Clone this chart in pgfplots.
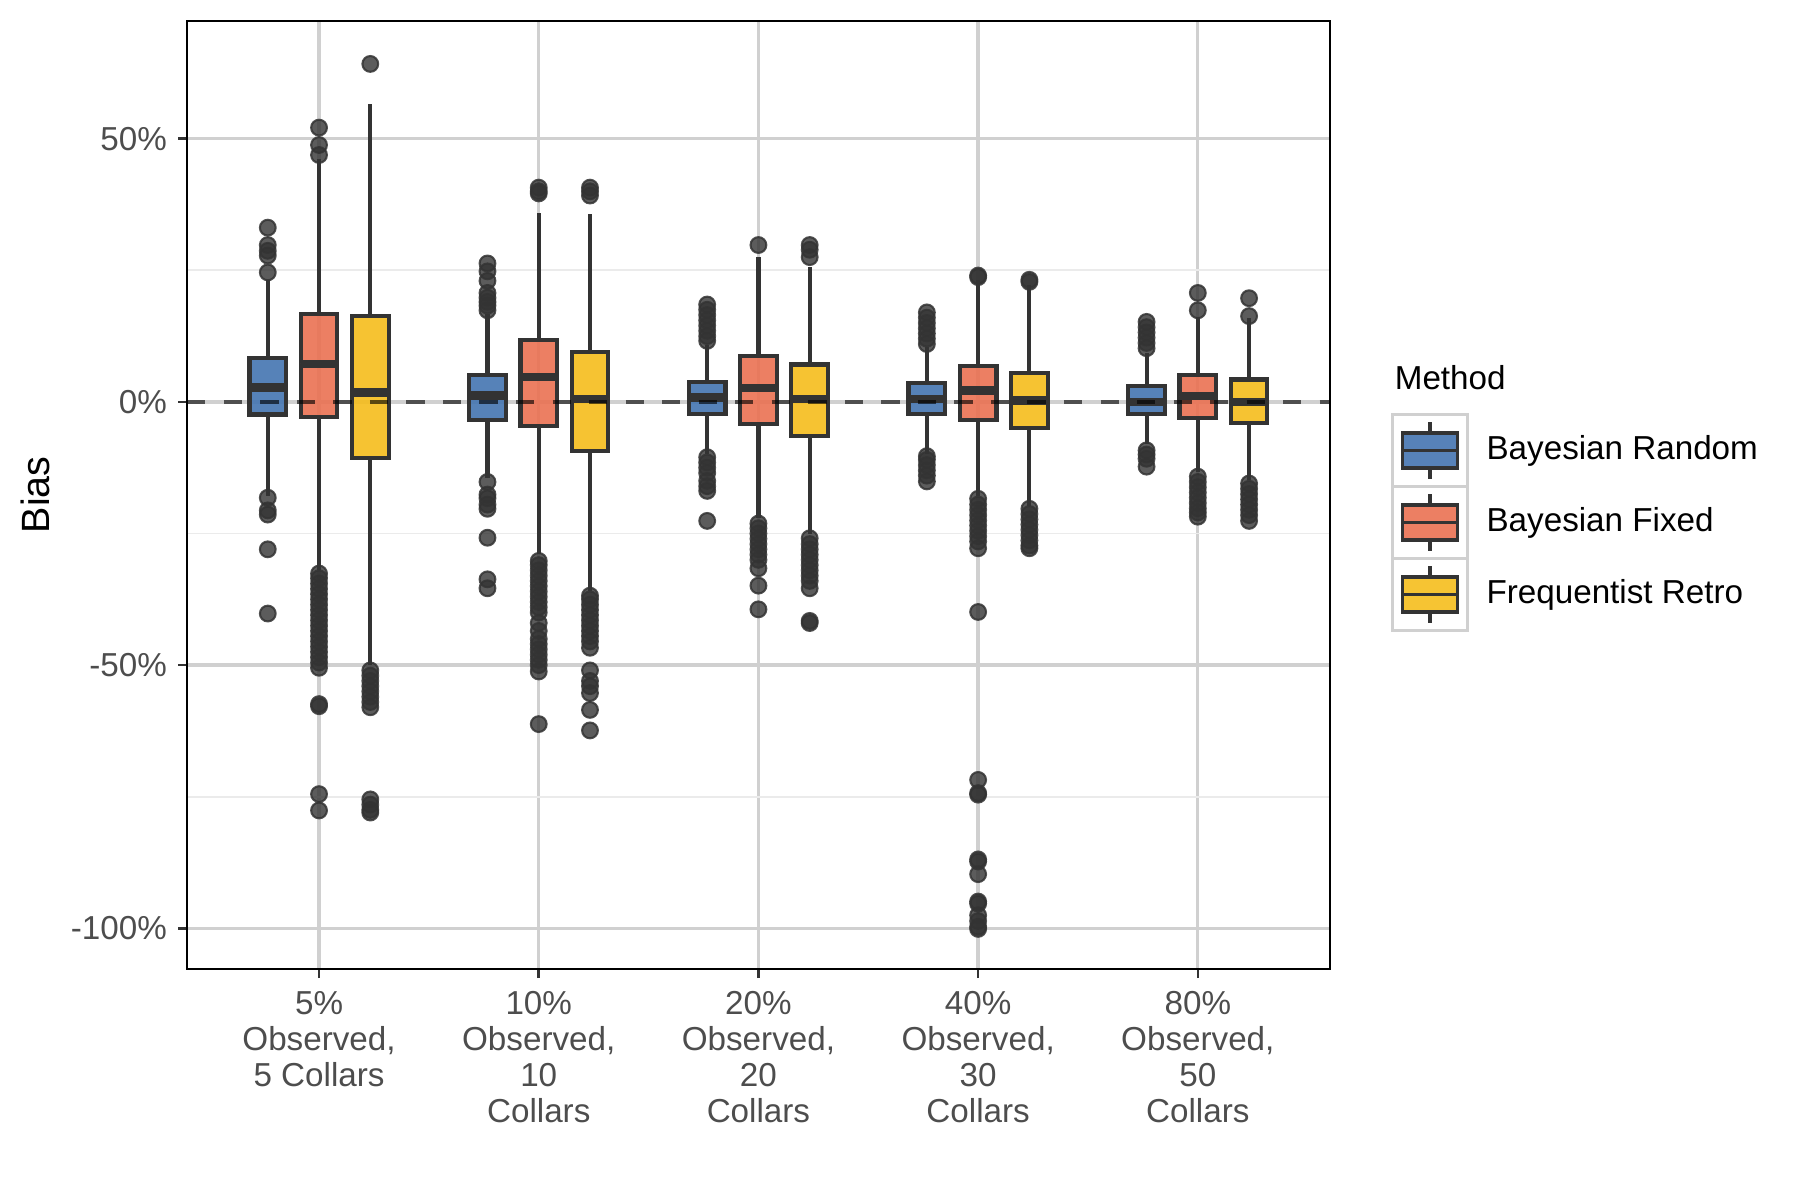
\documentclass[border=0pt]{standalone}
\usepackage{fontspec}
\setmainfont{Liberation Sans}
\usepackage{pgfplots}
\pgfplotsset{compat=1.18}
\usepgfplotslibrary{statistics}
\definecolor{bblue}{HTML}{4474B0}
\definecolor{bred}{HTML}{EA7152}
\definecolor{byel}{HTML}{F5BD1C}
\definecolor{lblue}{HTML}{5782B8}
\definecolor{lred}{HTML}{EC7F63}
\definecolor{lyel}{HTML}{F6C433}
\definecolor{g20}{HTML}{333333}
\definecolor{g30}{HTML}{4D4D4D}
\definecolor{gmaj}{HTML}{D0D0D0}
\definecolor{gmin}{HTML}{EBEBEB}
\newcommand{\legkey}[1]{%
  \path[fill=white] (0pt,-8.7pt) rectangle (18pt,8.7pt);
  \draw[overlay, draw=gmaj, line width=0.65pt] (0pt,-8.7pt) rectangle (18pt,8.7pt);
  \draw[g20, line width=0.8pt] (9pt,4.2pt) -- (9pt,6.9pt) (9pt,-4.2pt) -- (9pt,-6.9pt);
  \draw[draw=g20, fill=#1, line width=0.8pt] (2.4pt,-4.2pt) rectangle (15.6pt,4.2pt);
  \draw[g20, line width=0.8pt] (2.4pt,0pt) -- (15.6pt,0pt);
}
\pgfplotsset{
  bx/.style={boxplot prepared={box extend=0.1667, whisker extend=0, #1},
    boxplot/draw direction=y,
    draw=g20, line width=1.0pt, fill opacity=0.9,
    boxplot/every median/.style={line width=2.0pt},
    boxplot/every whisker/.style={line width=1.0pt}},
  outl/.style={only marks, mark=*, mark size=1.9pt,
    mark options={fill=g20, draw=g20, fill opacity=0.8, draw opacity=0.85, line width=0.5pt}},
}
\begin{document}
\begin{tikzpicture}
\useasboundingbox (0,0) rectangle (433.6pt,289.1pt);
\begin{axis}[
 at={(45.1pt,55.7pt)}, anchor=south west,
 scale only axis, width=275.2pt, height=228.4pt,
 xmin=0.4, xmax=5.6, ymin=-107.7, ymax=72.4,
 xtick={1,2,3,4,5},
 xticklabels={{5\%\\Observed,\\5 Collars},{10\%\\Observed,\\10\\Collars},{20\%\\Observed,\\20\\Collars},{40\%\\Observed,\\30\\Collars},{80\%\\Observed,\\50\\Collars}},
 ytick={-100,-50,0,50}, yticklabels={-100\%,-50\%,0\%,50\%},
 minor ytick={-75,-25,25},
 xmajorgrids, ymajorgrids, yminorgrids,
 major grid style={gmaj, line width=0.8pt},
 minor grid style={gmin, line width=0.45pt},
 tick pos=left, tick align=outside, major tick length=2.2pt, minor tick length=0pt,
 tick style={g20, line width=0.6pt},
 axis line style={black, line width=0.45pt},
 tick label style={font=\fontsize{8}{8.6}\selectfont, text=g30},
 xticklabel style={align=center, anchor=north, inner sep=0pt, yshift=-3.1pt},
 yticklabel style={anchor=east, inner sep=0pt, xshift=-2.5pt},
 ylabel={Bias},
 ylabel style={at={(axis description cs:-0.1325,0.5)}, anchor=center, font=\fontsize{9.5}{11}\selectfont},
 legend style={at={(axis description cs:1.0545,0.5858)}, anchor=north west, draw=none, fill=none,
   inner sep=0pt, outer sep=0pt, row sep=-0.45pt, column sep=4.4pt,
   font=\fontsize{8}{9.6}\selectfont, nodes={inner sep=0pt, text=black}},
 legend cell align=left,
]
\addlegendimage{legend image code/.code={\legkey{lblue}}}
\addlegendentry{Bayesian Random}
\addlegendimage{legend image code/.code={\legkey{lred}}}
\addlegendentry{Bayesian Fixed}
\addlegendimage{legend image code/.code={\legkey{lyel}}}
\addlegendentry{Frequentist Retro}

% ---- 5% ----
\addplot[bx={draw position=0.7667, lower whisker=-17.8, lower quartile=-2.4, median=2.75, upper quartile=8.36, upper whisker=23.2}, fill=bblue] coordinates {};
\addplot[bx={draw position=1, lower whisker=-32.0, lower quartile=-2.9, median=7.26, upper quartile=16.7, upper whisker=46.2}, fill=bred] coordinates {};
\addplot[bx={draw position=1.2333, lower whisker=-50.0, lower quartile=-10.7, median=1.8, upper quartile=16.3, upper whisker=56.5}, fill=byel] coordinates {};
% ---- 10% ----
\addplot[bx={draw position=1.7667, lower whisker=-14.4, lower quartile=-3.4, median=1.2, upper quartile=5.07, upper whisker=16.7}, fill=bblue] coordinates {};
\addplot[bx={draw position=2, lower whisker=-28.9, lower quartile=-4.5, median=4.7, upper quartile=11.8, upper whisker=35.9}, fill=bred] coordinates {};
\addplot[bx={draw position=2.2333, lower whisker=-36.0, lower quartile=-9.4, median=0.6, upper quartile=9.4, upper whisker=35.6}, fill=byel] coordinates {};
% ---- 20% ----
\addplot[bx={draw position=2.7667, lower whisker=-9.9, lower quartile=-2.3, median=0.82, upper quartile=3.84, upper whisker=10.9}, fill=bblue] coordinates {};
\addplot[bx={draw position=3, lower whisker=-22.1, lower quartile=-4.2, median=2.6, upper quartile=8.76, upper whisker=27.5}, fill=bred] coordinates {};
\addplot[bx={draw position=3.2333, lower whisker=-25.0, lower quartile=-6.4, median=0.53, upper quartile=7.1, upper whisker=25.6}, fill=byel] coordinates {};
% ---- 40% ----
\addplot[bx={draw position=3.7667, lower whisker=-9.9, lower quartile=-2.3, median=0.53, upper quartile=3.55, upper whisker=10.4}, fill=bblue] coordinates {};
\addplot[bx={draw position=4, lower whisker=-17.9, lower quartile=-3.4, median=2.15, upper quartile=6.86, upper whisker=23.2}, fill=bred] coordinates {};
\addplot[bx={draw position=4.2333, lower whisker=-19.8, lower quartile=-5.0, median=0.25, upper quartile=5.45, upper whisker=22.3}, fill=byel] coordinates {};
% ---- 80% ----
\addplot[bx={draw position=4.7667, lower whisker=-7.9, lower quartile=-2.3, median=0.02, upper quartile=3.0, upper whisker=9.2}, fill=bblue] coordinates {};
\addplot[bx={draw position=5, lower whisker=-13.3, lower quartile=-3.1, median=1.1, upper quartile=5.1, upper whisker=16.2}, fill=bred] coordinates {};
\addplot[bx={draw position=5.2333, lower whisker=-14.9, lower quartile=-4.0, median=0.02, upper quartile=4.27, upper whisker=15.9}, fill=byel] coordinates {};

% ---- outliers ----
\addplot[outl] coordinates {(0.7667,33.1) (0.7667,29.8) (0.7667,28.7) (0.7667,27.8) (0.7667,24.6) (0.7667,-18.2) (0.7667,-20.6) (0.7667,-21.4) (0.7667,-28.0) (0.7667,-40.2)};
\addplot[outl] coordinates {(1,52.1) (1,48.8) (1,46.9) (1,-32.6) (1,-33.5) (1,-34.5) (1,-35.5) (1,-36.5) (1,-37.5) (1,-38.5) (1,-39.5) (1,-40.5) (1,-41.5) (1,-42.5) (1,-43.5) (1,-44.5) (1,-45.5) (1,-46.5) (1,-47.5) (1,-48.5) (1,-49.5) (1,-50.5) (1,-57.4) (1,-57.8) (1,-74.5) (1,-77.6)};
\addplot[outl] coordinates {(1.2333,64.2) (1.2333,-51.0) (1.2333,-52.0) (1.2333,-53.0) (1.2333,-54.0) (1.2333,-55.0) (1.2333,-56.0) (1.2333,-57.0) (1.2333,-58.0) (1.2333,-75.5) (1.2333,-76.5) (1.2333,-77.5) (1.2333,-78.0)};
\addplot[outl] coordinates {(1.7667,26.3) (1.7667,24.8) (1.7667,23.0) (1.7667,20.7) (1.7667,19.8) (1.7667,19.0) (1.7667,18.3) (1.7667,17.4) (1.7667,-15.2) (1.7667,-17.6) (1.7667,-18.3) (1.7667,-19.5) (1.7667,-20.3) (1.7667,-25.8) (1.7667,-33.7) (1.7667,-35.4)};
\addplot[outl] coordinates {(2,40.7) (2,40.0) (2,39.6) (2,-30.2) (2,-31.0) (2,-32.0) (2,-33.0) (2,-34.0) (2,-35.0) (2,-36.0) (2,-37.0) (2,-38.0) (2,-39.0) (2,-40.0) (2,-42.0) (2,-43.5) (2,-45.0) (2,-46.0) (2,-47.0) (2,-48.0) (2,-49.0) (2,-50.0) (2,-51.2) (2,-61.2)};
\addplot[outl] coordinates {(2.2333,40.7) (2.2333,40.0) (2.2333,39.2) (2.2333,-36.8) (2.2333,-37.5) (2.2333,-38.5) (2.2333,-39.5) (2.2333,-40.5) (2.2333,-41.5) (2.2333,-42.5) (2.2333,-43.5) (2.2333,-44.5) (2.2333,-45.5) (2.2333,-46.7) (2.2333,-51.0) (2.2333,-53.0) (2.2333,-54.0) (2.2333,-55.3) (2.2333,-58.5) (2.2333,-62.4)};
\addplot[outl] coordinates {(2.7667,18.5) (2.7667,17.5) (2.7667,16.5) (2.7667,15.5) (2.7667,14.5) (2.7667,13.5) (2.7667,12.5) (2.7667,11.6) (2.7667,-10.5) (2.7667,-11.5) (2.7667,-12.5) (2.7667,-13.5) (2.7667,-15.0) (2.7667,-16.0) (2.7667,-16.9) (2.7667,-22.6)};
\addplot[outl] coordinates {(3,29.8) (3,-23.1) (3,-24.0) (3,-25.0) (3,-26.0) (3,-27.0) (3,-28.0) (3,-29.0) (3,-30.0) (3,-31.6) (3,-34.9) (3,-39.4)};
\addplot[outl] coordinates {(3.2333,29.8) (3.2333,28.9) (3.2333,27.5) (3.2333,-25.9) (3.2333,-27.0) (3.2333,-28.0) (3.2333,-29.0) (3.2333,-30.0) (3.2333,-31.0) (3.2333,-32.0) (3.2333,-33.0) (3.2333,-34.0) (3.2333,-35.4) (3.2333,-41.6) (3.2333,-42.0)};
\addplot[outl] coordinates {(3.7667,17.0) (3.7667,16.0) (3.7667,15.0) (3.7667,14.0) (3.7667,13.0) (3.7667,12.0) (3.7667,11.0) (3.7667,-10.3) (3.7667,-11.0) (3.7667,-12.0) (3.7667,-13.0) (3.7667,-14.0) (3.7667,-15.1)};
\addplot[outl] coordinates {(4,23.7) (4,24.0) (4,-18.4) (4,-19.5) (4,-20.5) (4,-21.5) (4,-22.5) (4,-23.5) (4,-24.5) (4,-25.5) (4,-26.5) (4,-27.8) (4,-39.9) (4,-71.8) (4,-74.3) (4,-74.6) (4,-86.9) (4,-87.3) (4,-89.7) (4,-94.9) (4,-95.3) (4,-97.5) (4,-98.6) (4,-99.7) (4,-100.1)};
\addplot[outl] coordinates {(4.2333,23.2) (4.2333,22.8) (4.2333,-20.3) (4.2333,-21.3) (4.2333,-22.3) (4.2333,-23.3) (4.2333,-24.3) (4.2333,-25.3) (4.2333,-26.3) (4.2333,-27.3) (4.2333,-27.8)};
\addplot[outl] coordinates {(4.7667,15.2) (4.7667,14.2) (4.7667,13.2) (4.7667,12.2) (4.7667,11.2) (4.7667,10.2) (4.7667,-9.2) (4.7667,-10.0) (4.7667,-10.8) (4.7667,-12.3)};
\addplot[outl] coordinates {(5,20.7) (5,17.4) (5,-14.2) (5,-15.2) (5,-16.2) (5,-17.2) (5,-18.2) (5,-19.2) (5,-20.2) (5,-21.0) (5,-21.8)};
\addplot[outl] coordinates {(5.2333,19.7) (5.2333,16.3) (5.2333,-15.5) (5.2333,-16.5) (5.2333,-17.5) (5.2333,-18.5) (5.2333,-19.5) (5.2333,-20.5) (5.2333,-21.5) (5.2333,-22.6)};

% ---- reference line ----
\addplot[black, opacity=0.62, line width=1pt, dash pattern=on 4.4pt off 4.4pt] coordinates {(0.4,0) (5.6,0)};
\end{axis}
\node[anchor=base west, inner sep=0pt, font=\fontsize{8}{9.6}\selectfont] at (335.8pt,195.3pt) {Method};
\end{tikzpicture}
\end{document}
